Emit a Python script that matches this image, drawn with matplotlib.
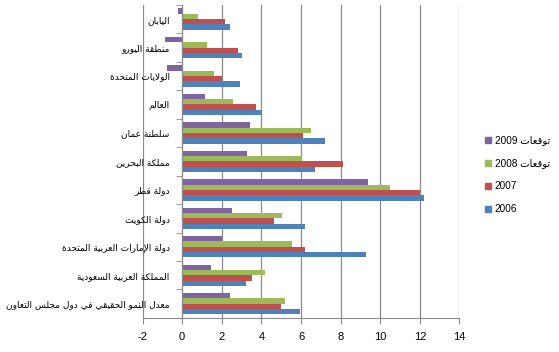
import numpy as np
import matplotlib
matplotlib.use('Agg')
import matplotlib.pyplot as plt
from matplotlib.patches import Patch

# categories, top to bottom as in the chart
categories = ['اليابان', 'منطقة اليورو', 'الولايات المتحدة', 'العالم', 'سلطنة عمان',
              'مملكة البحرين', 'دولة قطر', 'دولة الكويت', 'دولة الإمارات العربية المتحدة',
              'المملكة العربية السعودية', 'معدل النمو الحقيقي في دول مجلس التعاون']
v2006 = [2.43, 3.0, 2.92, 4.03, 7.2, 6.73, 12.2, 6.2, 9.3, 3.24, 5.93]
v2007 = [2.15, 2.8, 2.0, 3.73, 6.1, 8.13, 12.0, 4.63, 6.2, 3.55, 5.0]
v2008 = [0.82, 1.24, 1.63, 2.55, 6.5, 6.03, 10.5, 5.02, 5.54, 4.2, 5.2]
v2009 = [-0.2, -0.85, -0.75, 1.14, 3.44, 3.26, 9.4, 2.53, 2.03, 1.44, 2.43]
series_names = ['2006', '2007', 'توقعات 2008', 'توقعات 2009']
colors = ['#4F81BD', '#C0504D', '#9BBB59', '#8064A2']
xticks = [-2, 0, 2, 4, 6, 8, 10, 12, 14]

# matplotlib does no arabic shaping, so do a small one by hand
# isolated, final, initial, medial
FORMS = {
    'ا': (0xFE8D, 0xFE8E, None, None),
    'إ': (0xFE87, 0xFE88, None, None),
    'ب': (0xFE8F, 0xFE90, 0xFE91, 0xFE92),
    'ة': (0xFE93, 0xFE94, None, None),
    'ت': (0xFE95, 0xFE96, 0xFE97, 0xFE98),
    'ج': (0xFE9D, 0xFE9E, 0xFE9F, 0xFEA0),
    'ح': (0xFEA1, 0xFEA2, 0xFEA3, 0xFEA4),
    'د': (0xFEA9, 0xFEAA, None, None),
    'ر': (0xFEAD, 0xFEAE, None, None),
    'س': (0xFEB1, 0xFEB2, 0xFEB3, 0xFEB4),
    'ط': (0xFEC1, 0xFEC2, 0xFEC3, 0xFEC4),
    'ع': (0xFEC9, 0xFECA, 0xFECB, 0xFECC),
    'ف': (0xFED1, 0xFED2, 0xFED3, 0xFED4),
    'ق': (0xFED5, 0xFED6, 0xFED7, 0xFED8),
    'ك': (0xFED9, 0xFEDA, 0xFEDB, 0xFEDC),
    'ل': (0xFEDD, 0xFEDE, 0xFEDF, 0xFEE0),
    'م': (0xFEE1, 0xFEE2, 0xFEE3, 0xFEE4),
    'ن': (0xFEE5, 0xFEE6, 0xFEE7, 0xFEE8),
    'و': (0xFEED, 0xFEEE, None, None),
    'ي': (0xFEF1, 0xFEF2, 0xFEF3, 0xFEF4),
}
LAM_ALEF = {'ا': (0xFEFB, 0xFEFC), 'إ': (0xFEF9, 0xFEFA)}


def shape_word(w):
    out = []
    i = 0
    while i < len(w):
        c = w[i]
        prev = w[i - 1] if i > 0 else None
        joins_prev = prev in FORMS and FORMS[prev][2] is not None
        if c == 'ل' and i + 1 < len(w) and w[i + 1] in LAM_ALEF:
            iso, fin = LAM_ALEF[w[i + 1]]
            out.append(chr(fin if joins_prev else iso))
            i += 2
            continue
        if c not in FORMS:
            out.append(c)
            i += 1
            continue
        iso, fin, ini, med = FORMS[c]
        nxt = w[i + 1] if i + 1 < len(w) else None
        joins_next = ini is not None and nxt in FORMS
        if joins_prev and joins_next:
            ch = med
        elif joins_prev:
            ch = fin
        elif joins_next:
            ch = ini
        else:
            ch = iso
        out.append(chr(ch))
        i += 1
    return ''.join(out)


def rtl(text):
    vis = []
    for w in reversed(text.split(' ')):
        if any(ch in FORMS for ch in w):
            vis.append(shape_word(w)[::-1])
        else:
            vis.append(w)
    return ' '.join(vis)


fam = ['Liberation Sans', 'DejaVu Sans']
grid_col = '#8a8a8a'

fig = plt.figure(figsize=(5.59, 3.52), dpi=100)
ax = fig.add_axes([0.255, 0.097, 0.567, 0.889])

# spine first: set_position resets the ticks
for s in ['top', 'right']:
    ax.spines[s].set_visible(False)
ax.spines['left'].set_position(('data', 0))
ax.spines['left'].set_color(grid_col)
ax.spines['bottom'].set_color(grid_col)
ax.spines['left'].set_zorder(4)

n = len(categories)
y = np.arange(n)[::-1]
h = 0.1875
data = [v2006, v2007, v2008, v2009]
for k, vals in enumerate(data):
    ax.barh(y + (k - 1.5) * h, vals, height=h, color=colors[k], zorder=3)

ax.set_xlim(-2, 14)
ax.set_ylim(-0.5, n - 0.5)
ax.set_xticks(xticks)
ax.set_xticklabels([str(t) for t in xticks], family=fam, fontsize=8)
ax.tick_params(axis='x', length=4, color=grid_col, pad=6.5)
ax.grid(axis='x', color=grid_col, lw=0.9, zorder=0)

ax.set_yticks(y)
ax.set_yticklabels([rtl(c) for c in categories], family=['DejaVu Sans'], fontsize=6.5)
ax.tick_params(axis='y', which='major', length=0, pad=9)
ax.set_yticks(np.arange(-0.5, n, 1.0), minor=True)
ax.tick_params(axis='y', which='minor', length=4, color=grid_col)

handles = [Patch(color=colors[k]) for k in range(3, -1, -1)]
labels = [rtl(series_names[k]) for k in range(3, -1, -1)]
fig.legend(handles, labels, loc='center left', bbox_to_anchor=(0.851, 0.503),
           frameon=False, prop={'family': fam, 'size': 7.2},
           handlelength=0.65, handleheight=0.65, handletextpad=0.35, labelspacing=1.3)

fig.savefig('out.png', dpi=100)
